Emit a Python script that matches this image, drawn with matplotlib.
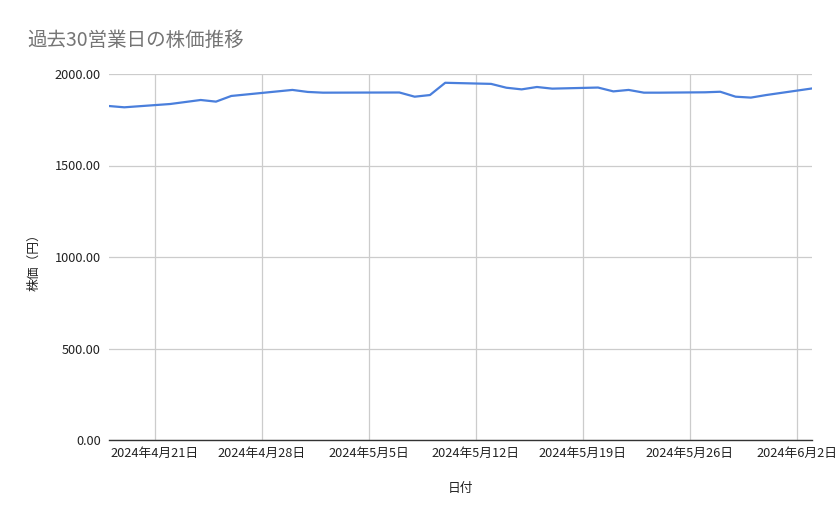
import datetime as dt
import matplotlib
matplotlib.use('Agg')
import matplotlib.pyplot as plt
import matplotlib.dates as mdates
from matplotlib.ticker import FuncFormatter, MultipleLocator

plt.rcParams['font.family'] = ['Noto Sans CJK JP', 'DejaVu Sans']

dates = ['2024-04-18', '2024-04-19', '2024-04-22', '2024-04-23', '2024-04-24',
         '2024-04-25', '2024-04-26', '2024-04-30', '2024-05-01', '2024-05-02',
         '2024-05-07', '2024-05-08', '2024-05-09', '2024-05-10', '2024-05-13',
         '2024-05-14', '2024-05-15', '2024-05-16', '2024-05-17', '2024-05-20',
         '2024-05-21', '2024-05-22', '2024-05-23', '2024-05-24', '2024-05-27',
         '2024-05-28', '2024-05-29', '2024-05-30', '2024-05-31', '2024-06-03']
prices = [1825, 1818, 1836, 1847, 1858, 1849, 1880, 1913, 1902, 1898,
          1899, 1876, 1885, 1952, 1946, 1925, 1916, 1929, 1920, 1926,
          1905, 1913, 1898, 1898, 1900, 1903, 1876, 1871, 1885, 1921]
title = '過去30営業日の株価推移'

x = [dt.datetime.strptime(d, '%Y-%m-%d') for d in dates]

fig = plt.figure(figsize=(8.39, 5.19), dpi=100)
ax = fig.add_axes([109/839, 1-440/519, (812-109)/839, (440-74)/519])

ax.plot(x, prices, color='#4a7fdc', lw=1.6)

ax.set_xlim(dt.datetime(2024, 4, 18), dt.datetime(2024, 6, 3))
ax.set_ylim(0, 2000)
ax.yaxis.set_major_locator(MultipleLocator(500))
ax.yaxis.set_major_formatter(FuncFormatter(lambda v, p: f'{v:.2f}'))
ax.xaxis.set_major_locator(mdates.WeekdayLocator(byweekday=mdates.SU))
ax.xaxis.set_major_formatter(FuncFormatter(
    lambda v, p: '{0.year}年{0.month}月{0.day}日'.format(mdates.num2date(v))))

ax.grid(True, color='#cccccc', lw=0.9)
ax.set_axisbelow(True)
for s in ['top', 'right', 'left']:
    ax.spines[s].set_visible(False)
ax.spines['bottom'].set_color('#333333')
ax.spines['bottom'].set_linewidth(1.0)
ax.tick_params(length=0, labelsize=9.2, colors='#222222')
ax.tick_params(axis='y', pad=6)
ax.tick_params(axis='x', pad=5)

ax.set_xlabel('日付', fontsize=9.2, labelpad=16, color='#222222')
ax.set_ylabel('株価（円）', fontsize=9.2, labelpad=10, color='#222222')
ax.yaxis.label.set_y(0.495)
fig.text(27/839, 1-40/519, title, fontsize=14, color='#757575', va='center', ha='left')

fig.savefig('out.png', dpi=100)
